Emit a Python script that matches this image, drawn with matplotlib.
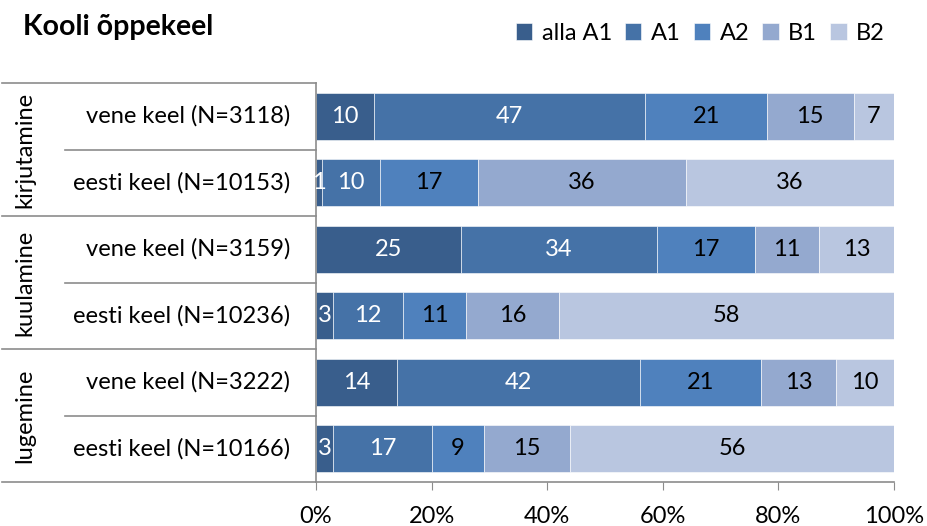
import matplotlib.pyplot as plt
import matplotlib.transforms as mtransforms
import numpy as np

plt.rcParams['font.family'] = ['Lato', 'DejaVu Sans']

groups = ['kirjutamine', 'kuulamine', 'lugemine']
rows = ['vene keel (N=3118)', 'eesti keel (N=10153)',
        'vene keel (N=3159)', 'eesti keel (N=10236)',
        'vene keel (N=3222)', 'eesti keel (N=10166)']
levels = ['alla A1', 'A1', 'A2', 'B1', 'B2']
alla_a1 = [10, 1, 25, 3, 14, 3]
a1 = [47, 10, 34, 12, 42, 17]
a2 = [21, 17, 17, 11, 21, 9]
b1 = [15, 36, 11, 16, 13, 15]
b2 = [7, 36, 13, 58, 10, 56]
series = [alla_a1, a1, a2, b1, b2]

colors = ['#395E8C', '#4572A7', '#4F81BD', '#94A9CF', '#B9C6E0']
txt_colors = ['white', 'white', 'black', 'black', 'black']
line_col = '#8C8C8C'
FS = 17

W, H = 927, 526
fig = plt.figure(figsize=(W / 100, H / 100), dpi=100)
ax = fig.add_axes([316 / W, 1 - 482 / H, (894 - 316) / W, (482 - 83) / H])

y = np.arange(len(rows))
left = np.zeros(len(rows))
for vals, col, tc, lab in zip(series, colors, txt_colors, levels):
    vals = np.array(vals, dtype=float)
    ax.barh(y, vals, left=left, height=0.71, color=col, edgecolor='white',
            linewidth=0.4, label=lab)
    for yi, (l, v) in enumerate(zip(left, vals)):
        ax.text(l + v / 2, yi, f'{int(v)}', ha='center', va='center',
                color=tc, fontsize=FS)
    left += vals

ax.set_xlim(0, 100)
ax.set_ylim(len(rows) - 0.5, -0.5)
ax.set_xticks(np.arange(0, 101, 20))
ax.set_xticklabels([f'{v}%' for v in range(0, 101, 20)], fontsize=FS)
ax.tick_params(axis='x', direction='out', length=6, color=line_col, pad=11)
ax.set_yticks([])
for s in ['top', 'right']:
    ax.spines[s].set_visible(False)
for s in ['left', 'bottom']:
    ax.spines[s].set_color(line_col)
    ax.spines[s].set_linewidth(1.2)

# category table on the left
tr = mtransforms.blended_transform_factory(fig.transFigure, ax.transData)
x_outer = 2 / W
x_inner = 65 / W
x_axis = 316 / W
for i in range(len(rows) + 1):
    b = i - 0.5
    x0 = x_outer if i % 2 == 0 else x_inner
    fig.add_artist(plt.Line2D([x0, x_axis], [b, b], transform=tr,
                              color=line_col, lw=1.2))
for i, r in enumerate(rows):
    fig.text(290 / W, i, r, transform=tr, ha='right', va='center', fontsize=FS)
for g, name in enumerate(groups):
    fig.text(25 / W, 2 * g + 0.5, name, transform=tr, ha='center', va='center',
             rotation=90, fontsize=FS)

fig.text(23 / W, 1 - 27 / H, 'Kooli õppekeel', fontsize=20.5, fontweight='bold',
         ha='left', va='center')

fig.legend(loc='center right', bbox_to_anchor=(906 / W, 1 - 33 / H), ncol=5,
           frameon=False, fontsize=FS, handlelength=0.7, handleheight=0.7,
           handletextpad=0.4, columnspacing=0.55)

fig.savefig('out.png', dpi=100, facecolor='white')
